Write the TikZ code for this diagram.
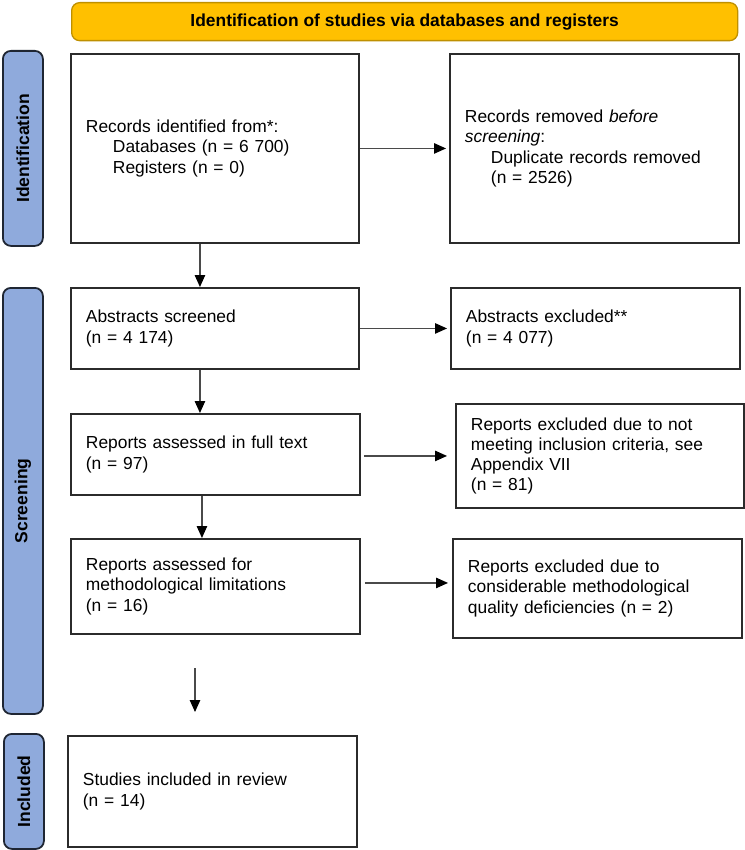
\documentclass[tikz,border=0pt]{standalone}
\usepackage{fontspec}
\setmainfont{Liberation Sans}
\usetikzlibrary{arrows.meta}
\definecolor{bannerfill}{HTML}{FFC000}
\definecolor{bannerdraw}{HTML}{BF9000}
\definecolor{sidefill}{HTML}{8FAADC}
\definecolor{sidedraw}{HTML}{1F2633}
\definecolor{boxdraw}{HTML}{2B2B2B}
\definecolor{arrline}{HTML}{4A4A4A}
\begin{document}
\begin{tikzpicture}[x=1pt,y=-1pt,
  box/.style={draw=boxdraw, line width=1.9pt, anchor=north west, inner xsep=15pt, inner ysep=0pt, align=left, font=\fontsize{17.4}{20.3}\selectfont},
  side/.style={draw=sidedraw, fill=sidefill, line width=1.8pt, rounded corners=8pt, anchor=north west, minimum width=40pt, inner sep=0pt},
  sidetext/.style={rotate=90, inner sep=0pt, font=\bfseries\fontsize{17.5}{19}\selectfont},
  arr/.style={draw=arrline, line width=1.1pt, -{Triangle[length=12pt,width=10.5pt,color=black,fill=black]}}
]
\useasboundingbox (0,0) rectangle (744,850);

\node[draw=bannerdraw, fill=bannerfill, line width=1.3pt, rounded corners=8pt, anchor=north west, minimum width=666pt, minimum height=38pt, inner sep=0pt, font=\bfseries\fontsize{17.4}{20}\selectfont] (banner) at (71,2) {Identification of studies via databases and registers};

\node[side, minimum height=195pt] (s1) at (2,50) {};
\node[sidetext] (s1t) at (s1.center) {Identification};
\node[side, minimum height=426pt] (s2) at (2,287) {};
\node[sidetext] (s2t) at (s2.center) {Screening};
\node[side, minimum height=115pt] (s3) at (3,733) {};
\node[sidetext] (s3t) at (s3.center) {Included};

\node[box, text width=258pt, minimum height=189pt] (b1) at (70,53) {Records identified from*:\\\hspace*{27pt}Databases (n = 6 700)\\\hspace*{27pt}Registers (n = 0)};
\node[box, text width=259pt, minimum height=189pt] (b2) at (449,53) {Records removed \textit{before}\\\textit{screening}:\\\hspace*{26pt}Duplicate records removed\\\hspace*{26pt}(n = 2526)};
\node[box, text width=258pt, minimum height=81pt] (b3) at (70,287) {Abstracts screened\\(n = 4 174)};
\node[box, text width=259pt, minimum height=81pt] (b4) at (450,287) {Abstracts excluded**\\(n = 4 077)};
\node[box, text width=259pt, minimum height=81pt] (b5) at (70,413) {Reports assessed in full text\\(n = 97)};
\node[box, text width=258pt, minimum height=104pt] (b6) at (455,403) {Reports excluded due to not\\meeting inclusion criteria, see\\Appendix VII\\(n = 81)};
\node[box, text width=259pt, minimum height=95pt] (b7) at (70,538) {Reports assessed for\\methodological limitations\\(n = 16)};
\node[box, text width=259pt, minimum height=99pt] (b8) at (452,538) {Reports excluded due to\\considerable methodological\\quality deficiencies (n = 2)};
\node[box, text width=259pt, minimum height=111pt] (b9) at (67,735) {Studies included in review\\(n = 14)};

\coordinate (f1) at (195,668);
\coordinate (f2) at (195,712);

\draw[arr, shorten >=3pt] (b1.east) -- (b1.east -| b2.west);
\draw[arr] ([xshift=-15pt]b1.south) -- ([xshift=-15pt]b1.south |- b3.north);
\draw[arr, shorten >=3pt] (b3.east) -- (b3.east -| b4.west);
\draw[arr] ([xshift=-15pt]b3.south) -- ([xshift=-15pt]b3.south |- b5.north);
\draw[arr, shorten <=3pt, shorten >=8pt] ([yshift=-1.5pt]b5.east) -- ([yshift=-1.5pt]b5.east -| b6.west);
\draw[arr] ([xshift=-13.5pt]b5.south) -- ([xshift=-13.5pt]b5.south |- b7.north);
\draw[arr, shorten <=4pt, shorten >=4pt] ([yshift=3.5pt]b7.east) -- ([yshift=3.5pt]b7.east -| b8.west);
\draw[arr] (f1) -- (f2);
\end{tikzpicture}
\end{document}
